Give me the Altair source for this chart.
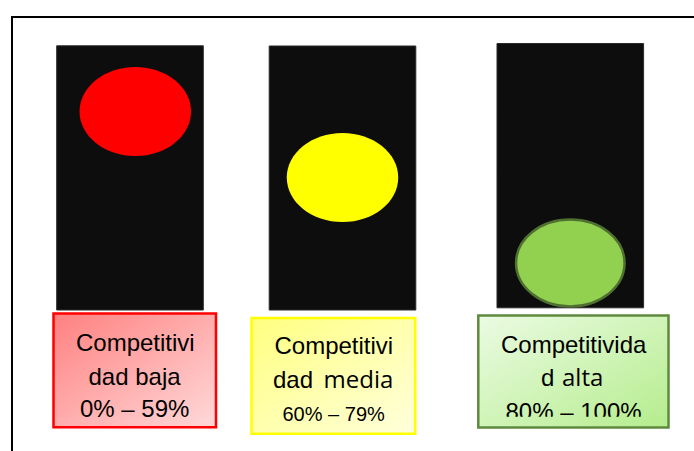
import altair as alt
import pandas as pd

W, H = 694, 451

# Traffic-light housings
housing_x0 = [56.7, 269.2, 497.0]
housing_x1 = [203.3, 415.8, 643.6]
housing_y0 = [45.8, 46.0, 43.5]
housing_y1 = [310.0, 310.0, 307.8]

# Lamps
lamp_x = [135.3, 342.5, 570.3]
lamp_y = [111.5, 177.5, 263.0]
lamp_fill = ["#ff0000", "#ffff00", "#92d050"]
lamp_stroke = ["#ff0000", "#ffff00", "#4f7030"]
lamp_width = [0, 0, 2.5]
lamp_size = [111.5 ** 2, 111.5 ** 2, 108.5 ** 2]
ELLIPSE = "M-1,0A1,0.8 0 1,1 1,0A1,0.8 0 1,1 -1,0Z"

# Caption boxes
box_x0 = [53.5, 251.5, 478.3]
box_x1 = [216.0, 415.2, 668.5]
box_y0 = [313.5, 318.0, 315.5]
box_y1 = [427.2, 433.8, 427.5]
box_stroke = ["#ff0000", "#ffff00", "#5f8a3e"]
box_from = [(255, 128, 128), (255, 255, 128), (235, 251, 227)]
box_to = [(255, 217, 217), (255, 255, 220), (181, 237, 141)]

# Strips that cut off the last caption line in the first and third box
strip_box = [0, 2]
strip_top = [417.2, 416.8]

# Caption text
text_label = ["Competitivi", "dad baja", "0% – 59%",
              "Competitivi", "dad", "media", "60% – 79%",
              "Competitivida", "d", "alta", "80% – 100%"]
text_x = [76, 88.5, 80,
          274.5, 273, 323.5, 282.5,
          501, 541, 562, 505.5]
text_y = [351, 385, 417,
          354, 388, 388, 421,
          352.5, 386, 386, 420]
text_size = [24, 24, 24,
             24, 24, 24, 20,
             24, 24, 24, 24]
text_font = ["Liberation Sans"] * 5 + ["Open Sans", "Liberation Sans",
             "Liberation Sans", "Liberation Sans", "Open Sans", "Liberation Sans"]

sx = alt.Scale(domain=[0, W], nice=False, zero=False)
sy = alt.Scale(domain=[H, 0], nice=False, zero=False)


def mix(start, end, t):
    return "#" + "".join(f"{round(a + (b - a) * t):02x}" for a, b in zip(start, end))


def gradient(start, end, x2=1, y2=1):
    return alt.LinearGradient(
        gradient="linear", x1=0, y1=0, x2=x2, y2=y2,
        stops=[alt.GradientStop(offset=0, color=start),
               alt.GradientStop(offset=1, color=end)],
    )


def rect(x0, x1, y0, y1, **mark):
    data = pd.DataFrame({"x0": [x0], "x1": [x1], "y0": [y0], "y1": [y1]})
    return alt.Chart(data).mark_rect(**mark).encode(
        x=alt.X("x0:Q", scale=sx, axis=None),
        x2="x1:Q",
        y=alt.Y("y0:Q", scale=sy, axis=None),
        y2="y1:Q",
    )


layers = [
    # Frame: top and left edges only
    rect(11, W, 16, 18, fill="#000000"),
    rect(11, 13, 16, H, fill="#000000"),
]

for i in range(3):
    layers.append(rect(housing_x0[i], housing_x1[i], housing_y0[i], housing_y1[i],
                       fill="#0d0d0d", stroke="#2a2a2a", strokeWidth=1))
    lamp = pd.DataFrame({"x": [lamp_x[i]], "y": [lamp_y[i]]})
    layers.append(
        alt.Chart(lamp).mark_point(
            shape=ELLIPSE, filled=True, size=lamp_size[i], opacity=1,
            fill=lamp_fill[i], stroke=lamp_stroke[i], strokeWidth=lamp_width[i],
        ).encode(
            x=alt.X("x:Q", scale=sx, axis=None),
            y=alt.Y("y:Q", scale=sy, axis=None),
        )
    )
    layers.append(rect(box_x0[i], box_x1[i], box_y0[i], box_y1[i],
                       fill=gradient(mix(box_from[i], box_to[i], 0), mix(box_from[i], box_to[i], 1))))

# Caption lines, one text layer per font and size
captions = pd.DataFrame({"label": text_label, "x": text_x, "y": text_y,
                         "size": text_size, "font": text_font})
for (font, size), part in captions.groupby(["font", "size"], sort=False):
    layers.append(
        alt.Chart(part).mark_text(
            align="left", baseline="alphabetic", font=font, fontSize=size, color="#000000",
        ).encode(
            x=alt.X("x:Q", scale=sx, axis=None),
            y=alt.Y("y:Q", scale=sy, axis=None),
            text="label:N",
        )
    )

# Each strip continues the diagonal shading of its box along the bottom edge
for k, i in enumerate(strip_box):
    frac = (strip_top[k] + box_y1[i]) / 2
    frac = (frac - box_y0[i]) / (box_y1[i] - box_y0[i])
    layers.append(rect(box_x0[i], box_x1[i], strip_top[k], box_y1[i],
                       fill=gradient(mix(box_from[i], box_to[i], frac / 2),
                                     mix(box_from[i], box_to[i], frac / 2 + 0.5), x2=1, y2=0)))

# Box outlines go on top of the strips
for i in range(3):
    layers.append(rect(box_x0[i], box_x1[i], box_y0[i], box_y1[i],
                       fillOpacity=0, stroke=box_stroke[i], strokeWidth=2.5))

chart = alt.layer(*layers).properties(
    width=W, height=H, padding=0, autosize=alt.AutoSizeParams(type="none"),
    background="#ffffff",
).configure_view(stroke=None)

chart.save("out.html", embed_options={"renderer": "svg", "actions": False})
